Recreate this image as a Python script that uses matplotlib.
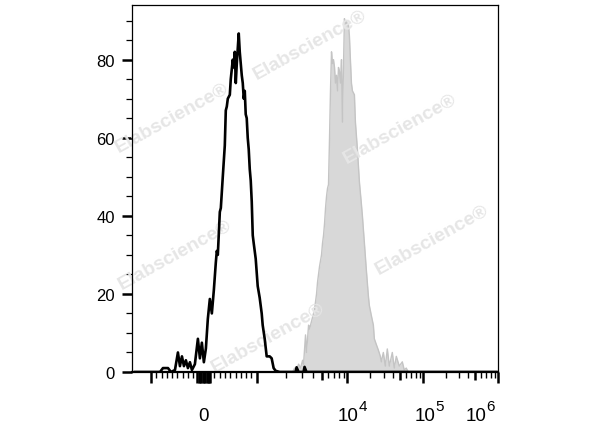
"""Flow cytometry overlay histogram: unstained control vs stained sample."""
import matplotlib
matplotlib.use("Agg")
import matplotlib.pyplot as plt
import numpy as np
from matplotlib.transforms import ScaledTranslation, blended_transform_factory

plt.rcParams["font.family"] = ["Liberation Sans", "DejaVu Sans"]

# --- data (fluorescence intensity, event count) ---
control_x = [-1302, -830, -774, -679, -623, -547, -491, -453, -415, -377, -340, -302,
             -264, -226, -170, -113, -75, -38, 0, 38, 75, 113, 151, 189, 226, 245, 264,
             302, 321, 358, 377, 396, 415, 434, 453, 491, 509, 547, 566, 585, 604, 623,
             642, 660, 679, 698, 717, 736, 755, 774, 792, 811, 830, 849, 868, 887, 906,
             925, 943, 981, 1024, 1074, 1127, 1154, 1211, 1270, 1365, 1431, 1500, 1574,
             1733, 2576, 2642, 2780, 3155, 3236, 3404, 950000]
control_y = [0, 0, 1, 1, 0, 0.5, 5, 1.5, 4, 1.5, 3, 1, 2.5, 0.5, 2, 8.5, 3.5, 7.5, 2.5,
             6, 13.6, 18.7, 15, 21, 28, 31, 30, 41, 42, 50, 54, 58, 67, 68, 70, 71, 75,
             80, 78, 82, 74, 79, 83, 86.7, 82, 79, 76, 74, 70, 72, 66, 65, 60, 57, 52, 49,
             43.6, 35, 33, 29, 22, 19, 15, 12, 8.5, 4, 4, 3.5, 1, 0.3, 0, 0, 1.2, 0, 0,
             1.3, 0, 0]

stained_x = [2388, 2512, 2642, 2780, 2924, 3079, 3155, 3319, 3404, 3589, 3681, 3873,
             4178, 4402, 4515, 4750, 5000, 5136, 5277, 5420, 5568, 5720, 5866, 6026,
             6194, 6353, 6531, 6699, 6887, 7079, 7261, 7464, 7674, 7870, 8072, 8299,
             8531, 8750, 8995, 9226, 9484, 9727, 10000, 10310, 10620, 10940, 11290,
             11640, 12360, 12740, 13540, 14380, 15280, 15750, 16740, 17780, 18890,
             19460, 20700, 21980, 22650, 24090, 25590, 27180, 28000, 29770, 31620,
             33590, 35700, 39080, 41500, 44150, 48310, 52970, 56230, 59700, 63500]
stained_y = [0, 1, 0.5, 2, 1, 3, 2, 9.5, 5, 12, 11, 13, 16, 20, 23, 27, 30, 33, 35, 38,
             42, 45, 47, 48, 60, 72, 82, 79, 80, 78, 74, 76, 72, 78, 77, 74, 80, 64, 78,
             90.5, 89, 90, 88.7, 89, 86, 80, 74, 72, 71, 64, 57, 48.7, 43, 40, 33, 26,
             19.5, 17, 14.4, 12, 8.5, 7, 5.6, 4, 2.6, 5, 1.5, 5.9, 1.5, 5, 1, 4, 1.5,
             2.6, 0.5, 1, 0]

x_major = [-1000, -125, -100, -75, -50, -25, 0, 25, 50, 75, 100, 125, 1000,
           5000, 10000, 50000, 100000, 500000, 1000000]
x_mid = [5000, 50000, 500000]
x_minor = ([-900, -800, -700, -600, -500, -400, -300, -200, 200, 300, 400, 500, 600, 700,
            800, 900]
           + [2000, 3000, 4000, 6000, 7000, 8000, 9000]
           + [20000, 30000, 40000, 60000, 70000, 80000, 90000]
           + [200000, 300000, 400000, 600000, 700000, 800000, 900000])
# (position, base text, exponent text, horizontal shift of the base centre in px)
x_labels = [(0, "0", "", 0), (10000, "10", "4", 1), (100000, "10", "5", 2),
            (1000000, "10", "6", -22)]

# --- biexponential-like display scale (linear around 0, log above 10^3) ---
LIN_SLOPE = 0.053
LOG_KNOTS = [3, np.log10(2000), np.log10(3000), np.log10(5000), 4, 5, 6, 7]
POS_KNOTS = [53, 82, 98, 118, 144, 220, 295, 370]


def fwd(x):
    x = np.asarray(x, dtype=float)
    lg = np.interp(np.log10(np.clip(x, 1000, None)), LOG_KNOTS, POS_KNOTS)
    return np.where(x > 1000, lg, x * LIN_SLOPE)


def inv(u):
    u = np.asarray(u, dtype=float)
    lg = 10 ** np.interp(np.maximum(u, POS_KNOTS[0]), POS_KNOTS, LOG_KNOTS)
    return np.where(u > POS_KNOTS[0], lg, u / LIN_SLOPE)


fig = plt.figure(figsize=(6, 4.27), dpi=100)
ax = fig.add_axes([0.22, 0.1265, 0.61, 0.8595])
ax.set_xscale("function", functions=(fwd, inv))

# watermarks (between grey fill and black line)
for wx, wy in [(0.517, 0.895), (0.287, 0.724), (0.667, 0.696),
               (0.292, 0.403), (0.72, 0.438), (0.447, 0.208)]:
    ax.text(wx, wy, "Elabscience®", rotation=29, ha="center", va="center",
            fontsize=14, fontweight="bold", color="#e6e6e6", transform=fig.transFigure,
            zorder=2.5, clip_on=False)

ax.fill_between(stained_x, stained_y, color="#d8d8d8", lw=0, zorder=1)
ax.plot(stained_x, stained_y, color="#c4c4c4", lw=1.0, zorder=2)
ax.plot(control_x, control_y, color="black", lw=1.9, zorder=3)

ax.set_xlim(-1360, 1000000)
ax.set_ylim(0, 94)

ax.set_xticks(x_major, [""] * len(x_major))
ax.set_xticks(x_minor, minor=True)
ax.set_yticks([0, 20, 40, 60, 80])
ax.set_yticks(np.arange(0, 95, 5), minor=True)

ax.tick_params(axis="x", which="major", direction="out", length=8, width=1.8)
ax.tick_params(axis="x", which="minor", direction="out", length=4.5, width=1.0)
ax.tick_params(axis="y", which="major", direction="out", length=7.5, width=1.8,
               labelsize=12, pad=5)
ax.tick_params(axis="y", which="minor", direction="out", length=4, width=0.9)

for sp in ["top", "right", "left"]:
    ax.spines[sp].set_linewidth(0.9)
ax.spines["bottom"].set_linewidth(1.6)

# medium-length ticks at 5 x 10^k
for t in ax.xaxis.get_major_ticks():
    if t.get_loc() in x_mid:
        t.tick1line.set_markersize(6)

# x labels: "10" with a large exponent, baselines aligned like the original
xtrans = blended_transform_factory(ax.transData, ax.transAxes)
for pos, base, expo, shift in x_labels:
    off = ScaledTranslation(shift / 100, -48 / 100, fig.dpi_scale_trans)
    ax.text(pos, 0, base, ha="center", va="baseline", fontsize=13.5,
            transform=xtrans + off, clip_on=False)
    if expo:
        eoff = ScaledTranslation((shift + 10) / 100, -38 / 100, fig.dpi_scale_trans)
        ax.text(pos, 0, expo, ha="left", va="baseline", fontsize=11,
                transform=xtrans + eoff, clip_on=False)

fig.savefig("out.png", dpi=100)
